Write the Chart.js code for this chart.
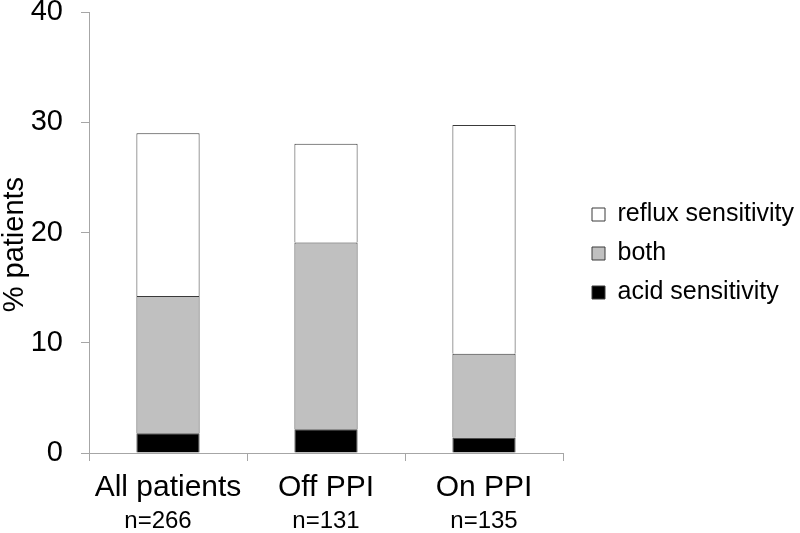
<!DOCTYPE html>
<html>
<head>
<meta charset="utf-8">
<script src="https://cdn.jsdelivr.net/npm/chart.js@4"></script>
<style>
html,body{margin:0;padding:0;background:#fff;}
#wrap{width:800px;height:533px;}
</style>
</head>
<body>
<div id="wrap"><canvas id="c" width="800" height="533"></canvas></div>
<script>
const categories = ['All patients', 'Off PPI', 'On PPI'];
const nLabels = ['n=266   ', 'n=131', 'n=135'];
const acidSensitivity = [1.8, 2.15, 1.4];
const both = [12.45, 16.95, 7.6];
const refluxSensitivity = [14.75, 8.95, 20.75];
const yTicks = [0, 10, 20, 30, 40];

const FONT = "'Liberation Sans', Arial, Helvetica, sans-serif";
const AXIS = '#a6a6a6';
const EDGE = '#3a3a3a';

new Chart(document.getElementById('c'), {
  type: 'bar',
  data: {
    labels: categories,
    datasets: [
      { label: 'acid sensitivity', data: acidSensitivity, backgroundColor: '#000000', borderColor: EDGE, borderWidth: 1 },
      { label: 'both', data: both, backgroundColor: '#c0c0c0', borderColor: EDGE, borderWidth: 1 },
      { label: 'reflux sensitivity', data: refluxSensitivity, backgroundColor: '#ffffff', borderColor: EDGE, borderWidth: 1 }
    ]
  },
  options: {
    responsive: false,
    animation: false,
    devicePixelRatio: 1,
    barPercentage: 0.4,
    categoryPercentage: 1,
    layout: { padding: { top: 12, left: 0, right: 0, bottom: 0 } },
    plugins: {
      tooltip: { enabled: false },
      legend: {
        position: 'right',
        align: 'start',
        reverse: true,
        maxWidth: 222,
        title: { display: true, text: ' ', font: { size: 12, family: FONT }, padding: { top: 161.6, bottom: 0 } },
        labels: {
          boxWidth: 13,
          boxHeight: 13,
          padding: 14,
          color: '#000',
          font: { size: 25, family: FONT }
        }
      }
    },
    scales: {
      x: {
        stacked: true,
        offset: true,
        grid: { display: true, drawOnChartArea: false, drawTicks: true, tickLength: 8, color: AXIS, offset: true },
        border: { display: true, color: AXIS, width: 1 },
        ticks: { color: '#000', padding: 9, font: { size: 30, family: FONT }, maxRotation: 0, autoSkip: false },
        afterFit: (s) => { s.height = 50; }
      },
      x2: {
        type: 'category',
        labels: nLabels,
        position: 'bottom',
        offset: true,
        grid: { display: false, drawTicks: false },
        border: { display: false },
        ticks: { color: '#000', padding: 4, font: { size: 24, family: FONT }, maxRotation: 0, autoSkip: false },
        afterFit: (s) => { s.height = 30; }
      },
      y: {
        stacked: true,
        min: 0,
        max: 40,
        afterBuildTicks: (s) => { s.ticks = yTicks.map(v => ({ value: v })); },
        grid: { display: true, drawOnChartArea: false, drawTicks: true, tickLength: 8, color: AXIS },
        border: { display: true, color: AXIS, width: 1 },
        ticks: { color: '#000', padding: 18, font: { size: 29, family: FONT } },
        title: { display: true, text: '% patients   ', color: '#000', font: { size: 29, family: FONT, lineHeight: 1.0 }, padding: { top: 0, bottom: 0 } },
        afterFit: (s) => { s.width = 89; s.paddingTop = 0; s.paddingBottom = 0; }
      },
      pad: {
        type: 'linear',
        position: 'right',
        display: true,
        grid: { display: false, drawTicks: false },
        border: { display: false },
        ticks: { display: false },
        afterFit: (s) => { s.width = 15; s.paddingTop = 0; s.paddingBottom = 0; }
      }
    }
  }
});
</script>
</body>
</html>
